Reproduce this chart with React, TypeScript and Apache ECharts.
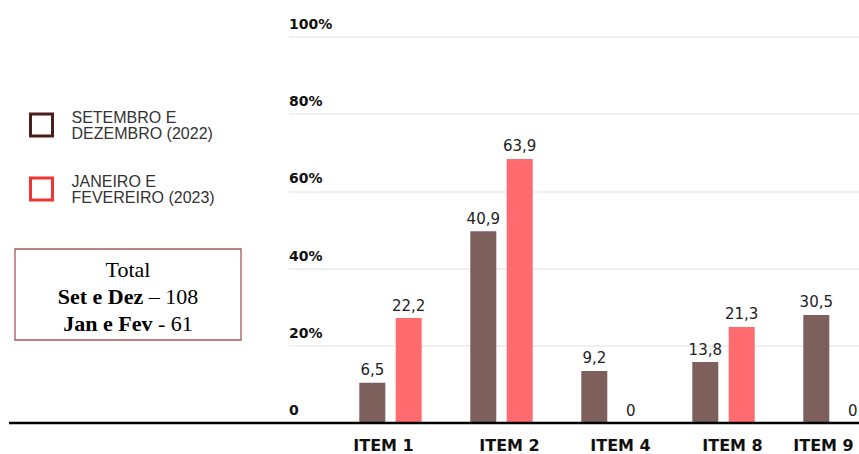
import React, { useEffect, useRef } from "react";
import * as echarts from "echarts";

const categories = ["ITEM 1", "ITEM 2", "ITEM 4", "ITEM 8", "ITEM 9"];
// bar heights as drawn in the picture (percent of axis)
const setDezHeights = [10.4, 49.7, 13.5, 15.8, 28.0];
const janFevHeights = [27.2, 68.4, 0, 24.9, 0];
// value labels as printed in the picture
const setDezLabels = ["6,5", "40,9", "9,2", "13,8", "30,5"];
const janFevLabels = ["22,2", "63,9", "0", "21,3", "0"];
const seriesNames = ["SETEMBRO E\nDEZEMBRO (2022)", "JANEIRO E\nFEVEREIRO (2023)"];
const yMin = 0;
const yMax = 100;
const yInterval = 20;
const totalTitle = "Total";
const totalLines = [
  ["Set e Dez", " – 108"],
  ["Jan e Fev", " - 61"],
];

const SANS = "'Liberation Sans', Arial, Helvetica, sans-serif";
const WIDE = "'DejaVu Sans', Verdana, sans-serif";
const SERIF = "'Liberation Serif', 'Times New Roman', serif";

// canvas is wider than the visible 859px: the last group is cut off at the right edge
const CHART_W = 890;
const VIEW_W = 859;
// the category names in the source are not exactly centred under their bars:
// horizontal nudge (px, + = right) per tick label, applied as text padding
const TICK_NUDGE = [-7, 8, 8, 9, -11];

export default function App() {
  const ref = useRef<HTMLDivElement>(null);
  useEffect(() => {
    if (!ref.current) return;
    const chart = echarts.init(ref.current, undefined, { renderer: "svg" });
    const labelStyle = {
      show: true,
      position: "top",
      distance: 5,
      fontSize: 15,
      color: "#222",
      fontFamily: WIDE,
    };
    const tickFont = { fontSize: 16, fontWeight: "bold", color: "#111", fontFamily: WIDE };
    const tickRich: Record<string, any> = {};
    TICK_NUDGE.forEach((d, i) => {
      tickRich["t" + i] = {
        ...tickFont,
        padding: d >= 0 ? [0, 0, 0, 2 * d] : [0, -2 * d, 0, 0],
      };
    });
    chart.setOption({
      animation: false,
      backgroundColor: "#fff",
      legend: {
        orient: "vertical",
        left: 24,
        top: 104,
        itemWidth: 22,
        itemHeight: 22,
        itemGap: 32,
        icon: "rect",
        selectedMode: false,
        textStyle: {
          fontSize: 16,
          color: "#333",
          lineHeight: 16,
          padding: [0, 0, 0, 14],
          fontFamily: SANS,
        },
        data: [
          { name: seriesNames[0], itemStyle: { color: "#fff", borderColor: "#4b1e1e", borderWidth: 3 } },
          { name: seriesNames[1], itemStyle: { color: "#fff", borderColor: "#f03535", borderWidth: 3 } },
        ],
      },
      grid: [
        { left: 289, right: CHART_W - VIEW_W, top: 37, bottom: 31 },
        { left: 335, right: 0, top: 37, bottom: 31 },
      ],
      xAxis: [
        { type: "category", gridIndex: 0, data: categories, show: false },
        {
          type: "category",
          gridIndex: 1,
          data: categories,
          axisLine: { show: false },
          axisTick: { show: false },
          axisLabel: {
            interval: 0,
            hideOverlap: false,
            margin: 14,
            ...tickFont,
            formatter: (v: string, i: number) => "{t" + i + "|" + v + "}",
            rich: tickRich,
          },
        },
      ],
      yAxis: [
        {
          type: "value",
          gridIndex: 0,
          min: yMin,
          max: yMax,
          interval: yInterval,
          axisLine: { show: false },
          axisTick: { show: false },
          splitLine: { lineStyle: { color: "#ebebeb", width: 1.5 } },
          axisLabel: {
            inside: true,
            margin: 0,
            verticalAlign: "bottom",
            padding: [0, 0, 6, 0],
            fontSize: 14,
            fontWeight: "bold",
            color: "#111",
            fontFamily: WIDE,
            formatter: (v: number) => (v === 0 ? "0" : v + "%"),
          },
        },
        {
          type: "value",
          gridIndex: 1,
          min: yMin,
          max: yMax,
          interval: yInterval,
          show: false,
        },
      ],
      series: [
        {
          name: seriesNames[0],
          type: "bar",
          xAxisIndex: 1,
          yAxisIndex: 1,
          data: setDezHeights,
          barWidth: 26,
          barGap: "40%",
          itemStyle: { color: "#7d5f5c" },
          label: { ...labelStyle, formatter: (p: any) => setDezLabels[p.dataIndex] },
        },
        {
          name: seriesNames[1],
          type: "bar",
          xAxisIndex: 1,
          yAxisIndex: 1,
          data: janFevHeights,
          barWidth: 26,
          barGap: "40%",
          itemStyle: { color: "#ff6b6e" },
          label: { ...labelStyle, formatter: (p: any) => janFevLabels[p.dataIndex] },
        },
      ],
      graphic: [
        {
          type: "line",
          z: 100,
          shape: { x1: 9, y1: 423, x2: VIEW_W, y2: 423 },
          style: { stroke: "#000", lineWidth: 2.5 },
        },
        {
          type: "rect",
          shape: { x: 15, y: 249, width: 226, height: 91 },
          style: { fill: "#fff", stroke: "#a4585a", lineWidth: 1.3 },
        },
        {
          type: "text",
          x: 128,
          y: 296,
          style: {
            text:
              "{n|" + totalTitle + "}\n" +
              totalLines.map((l) => "{b|" + l[0] + "}{n|" + l[1] + "}").join("\n"),
            align: "center",
            verticalAlign: "middle",
            lineHeight: 27,
            rich: {
              n: { fontFamily: SERIF, fontSize: 22, color: "#111", lineHeight: 27 },
              b: { fontFamily: SERIF, fontSize: 22, fontWeight: "bold", color: "#111", lineHeight: 27 },
            },
          },
        },
      ],
    });
    return () => chart.dispose();
  }, []);
  return (
    <div
      style={{
        position: "fixed",
        left: 0,
        top: 0,
        width: VIEW_W,
        height: 454,
        overflow: "hidden",
        background: "#fff",
      }}
    >
      <div ref={ref} style={{ width: CHART_W, height: 454 }} />
    </div>
  );
}
